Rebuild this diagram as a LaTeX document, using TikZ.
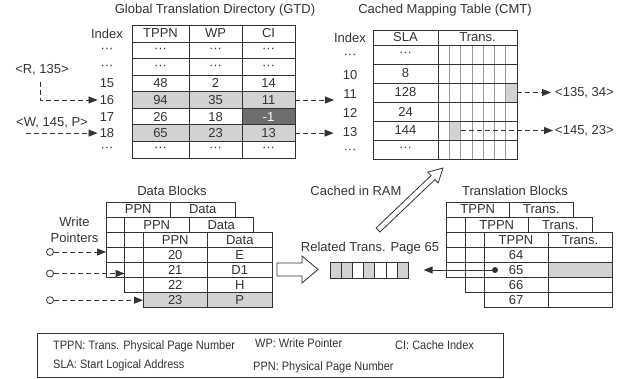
\documentclass[tikz,border=0pt]{standalone}
\usepackage{fontspec}
\setmainfont{Liberation Sans}
\newfontfamily\legfont[FakeStretch=0.9]{Liberation Sans}
\usetikzlibrary{arrows.meta,calc}
\definecolor{ln}{HTML}{333333}
\definecolor{lg}{HTML}{D2D2D2}
\definecolor{dg}{HTML}{6E6E6E}
\definecolor{subc}{HTML}{9A9A9A}
\begin{document}
\begin{tikzpicture}[x=1pt,y=-1pt,
  txt/.style={font=\fontsize{13}{15}\selectfont, inner sep=1pt, text=ln},
  sm/.style={font=\legfont\fontsize{12.2}{14}\selectfont, inner sep=0pt, anchor=west, text=ln},
  grid/.style={draw=ln, line width=0.9pt},
  dasharr/.style={draw=ln, line width=0.8pt, dash pattern=on 5pt off 3pt, -{Triangle[length=9pt,width=7pt]}},
  solarr/.style={draw=ln, line width=0.8pt, -{Triangle[length=9pt,width=7pt]}},
  hollow/.style={draw=ln, line width=0.8pt, fill=white, line join=miter},
  ptr/.style={circle, draw=ln, line width=0.8pt, minimum size=7pt, inner sep=0pt, fill=white}
]
\useasboundingbox (0,0) rectangle (624,379);

% ---------- titles ----------
\node[txt] (gtdt) at (215,10) {Global Translation Directory (GTD)};
\node[txt] (cmtt) at (445,10) {Cached Mapping Table (CMT)};

% ---------- GTD ----------
\fill[lg] (132,91.71) rectangle (295,108.29);
\fill[lg] (132,124.86) rectangle (295,141.43);
\fill[dg] (242,108.29) rectangle (295,124.86);
\draw[grid] (132,25) rectangle (295,158);
\foreach \y in {42,58.57,75.14,91.71,108.29,124.86,141.43} \draw[grid] (132,\y) -- (295,\y);
\foreach \x in {189,242} \draw[grid] (\x,25) -- (\x,158);
\node[txt] (gidx) at (107,33.5) {Index};
\node[txt] (gh1) at (160.5,33.5) {TPPN};
\node[txt] (gh2) at (215.5,33.5) {WP};
\node[txt] (gh3) at (268.5,33.5) {CI};
\foreach \n/\ix/\yy/\a/\b/\c/\tc in {a/···/50.3/···/···/···/ln, b/···/66.9/···/···/···/ln, 15/15/83.4/48/2/14/ln, 16/16/100/94/35/11/ln, 17/17/116.6/26/18/-1/white, 18/18/133.1/65/23/13/ln, c/···/149.7/···/···/···/ln}{
  \node[txt] (i\n) at (107,\yy) {\ix};
  \node[txt] (tp\n) at (160.5,\yy) {\a};
  \node[txt] (w\n) at (215.5,\yy) {\b};
  \node[txt, text=\tc, minimum width=53pt, inner sep=0pt] (ci\n) at (268.5,\yy) {\c};
}

% ---------- CMT ----------
\node[fill=lg, inner sep=0pt, minimum width=11.29pt, minimum height=19pt] (g11) at (511.36,92.5) {};
\node[fill=lg, inner sep=0pt, minimum width=11.29pt, minimum height=19pt] (g13) at (454.93,130.5) {};
\foreach \k in {1,...,6} \draw[draw=subc, line width=0.7pt] ({438+\k*11.2857},45) -- ({438+\k*11.2857},159);
\draw[grid] (373,30) rectangle (517,159);
\foreach \y in {45,64,83,102,121,140} \draw[grid] (373,\y) -- (517,\y);
\draw[grid] (438,30) -- (438,159);
\node[txt] (cidx) at (350,38) {Index};
\node[txt] (ch1) at (405.5,37.5) {SLA};
\node[txt] (ch2) at (477.5,37.5) {Trans.};
\foreach \n/\ix/\yy/\s in {a/···/54.5/···, 10/10/73.5/8, 11/11/92.5/128, 12/12/111.5/24, 13/13/130.5/144, b/···/149.5/···}{
  \node[txt] (c\n) at (350,\yy+1.5) {\ix};
  \node[txt] (s\n) at (405.5,\yy) {\s};
}

% GTD -> CMT
\draw[dasharr, shorten >=8pt] (ci16.east) -- (ci16.east -| c11.west);
\draw[dasharr, shorten >=8pt] (ci18.east) -- (ci18.east -| c13.west);

% CMT -> outputs
\node[txt, anchor=west] (o1) at (554,92.5) {<135, 34>};
\node[txt, anchor=west] (o2) at (554,130.5) {<145, 23>};
\draw[dasharr, shorten >=3pt] (g11.east) -- (o1.west);
\draw[dasharr, shorten >=1pt] (g13.east) -- (o2.west);

% left requests
\node[txt] (rl) at (42,70) {<R, 135>};
\draw[dasharr, shorten >=1pt] ([xshift=-2pt,yshift=-5pt]rl.south) |- (i16.west);
\node[txt] (wl) at (52,123) {<W, 145, P>};
\coordinate (ws) at (26,133.1);
\draw[dasharr, shorten >=1pt] (ws) -- (i18.west);

% ---------- Data Blocks ----------
\node[txt] (dbt) at (172,190.5) {Data Blocks};
% back
\draw[grid, fill=white] (106,202) rectangle (235,277.5);
\foreach \y in {217.1,232.2,247.3,262.4} \draw[grid] (106,\y) -- (235,\y);
\draw[grid] (170.5,202) -- (170.5,217.1);
\node[txt] (db1a) at (138.25,209.5) {PPN};
\node[txt] (db1b) at (202.75,209.5) {Data};
% middle
\draw[grid, fill=white] (124.5,217.1) rectangle (253.5,292.6);
\foreach \y in {232.2,247.3,262.4,277.5} \draw[grid] (124.5,\y) -- (253.5,\y);
\draw[grid] (189,217.1) -- (189,232.2);
\node[txt] (db2a) at (156.75,224.6) {PPN};
\node[txt] (db2b) at (221.25,224.6) {Data};
% front
\draw[grid, fill=white] (143,232.2) rectangle (272,307.7);
\fill[lg] (143,292.6) rectangle (272,307.7);
\draw[grid] (143,232.2) rectangle (272,307.7);
\foreach \y in {247.3,262.4,277.5,292.6} \draw[grid] (143,\y) -- (272,\y);
\draw[grid] (207.5,232.2) -- (207.5,307.7);
\node[txt] (db3a) at (175.25,239.8) {PPN};
\node[txt] (db3b) at (239.75,239.8) {Data};
\foreach \p/\d/\yy in {20/E/254.9, 21/D1/270, 22/H/285.1, 23/P/300.2}{
  \node[txt] (dp\p) at (175.25,\yy) {\p};
  \node[txt] (dd\p) at (239.75,\yy) {\d};
}
% write pointers
\node[txt] (wpt1) at (74.5,222) {Write};
\node[txt] (wpt2) at (74.5,238) {Pointers};
\node[ptr] (ptr1) at (50,252) {};
\node[ptr] (ptr2) at (50,273.5) {};
\node[ptr] (ptr3) at (50,300.2) {};
\coordinate (wt1) at (106,252);
\coordinate (wt2) at (124.5,273.5);
\coordinate (wt3) at (143,300.2);
\draw[dasharr] (ptr1) -- (wt1);
\draw[dasharr] (ptr2) -- (wt2);
\draw[dasharr] (ptr3) -- (wt3);

% hollow arrow data -> page
\draw[hollow] (277,263) -- (302,263) -- (302,256) -- (318,269.5) -- (302,283) -- (302,276) -- (277,276) -- cycle;

% related trans page strip
\node[txt] (rtp) at (370,248) {Related Trans. Page 65};
\foreach \k/\f in {0/lg,1/lg,2/white,3/lg,4/white,5/white,6/lg}
  \draw[grid, fill=\f] ({330+\k*11.2},262) rectangle ({341.2+\k*11.2},278);
\node[inner sep=0pt, minimum width=78.4pt, minimum height=16pt] (strip) at (369.2,270) {};

% cached in RAM arrow
\node[txt] (cir) at (356,190.5) {Cached in RAM};
\begin{scope}[shift={(378,230)}, rotate=43.64]
  \draw[hollow] (0,-2.8) -- (76,-2.8) -- (76,-7.5) -- (89.8,0) -- (76,7.5) -- (76,2.8) -- (0,2.8) -- cycle;
\end{scope}

% ---------- Translation Blocks ----------
\node[txt] (tbt) at (515,190.5) {Translation Blocks};
% back
\draw[grid, fill=white] (446,202) rectangle (573,277.5);
\foreach \y in {217.1,232.2,247.3,262.4} \draw[grid] (446,\y) -- (573,\y);
\draw[grid] (509.5,202) -- (509.5,217.1);
\node[txt] (tb1a) at (477.75,209.5) {TPPN};
\node[txt] (tb1b) at (541.25,209.5) {Trans.};
% middle
\draw[grid, fill=white] (465,217.1) rectangle (592,292.6);
\foreach \y in {232.2,247.3,262.4,277.5} \draw[grid] (465,\y) -- (592,\y);
\draw[grid] (528.5,217.1) -- (528.5,232.2);
\node[txt] (tb2a) at (496.75,224.6) {TPPN};
\node[txt] (tb2b) at (560.25,224.6) {Trans.};
% front
\draw[grid, fill=white] (484,232.2) rectangle (612,307.7);
\fill[lg] (548,262.4) rectangle (612,277.5);
\draw[grid] (484,232.2) rectangle (612,307.7);
\foreach \y in {247.3,262.4,277.5,292.6} \draw[grid] (484,\y) -- (612,\y);
\draw[grid] (548,232.2) -- (548,307.7);
\node[txt] (tb3a) at (516,239.8) {TPPN};
\node[txt] (tb3b) at (580,239.8) {Trans.};
\foreach \p/\yy in {64/254.9, 65/270, 66/285.1, 67/300.2}
  \node[txt] (tp\p) at (516,\yy) {\p};

% dot -> strip
\node[circle, fill=ln, minimum size=6pt, inner sep=0pt] (dot) at (495,270) {};
\draw[solarr, shorten >=15pt] (dot) -- (strip.east);

% ---------- legend ----------
\node[draw=ln, line width=0.8pt, minimum width=466pt, minimum height=44pt, inner sep=0pt] (leg) at (270,355) {};
\node[sm] (l1) at (53,346.5) {TPPN: Trans. Physical Page Number};
\node[sm] (l2) at (255,343.5) {WP: Write Pointer};
\node[sm] (l3) at (395,345) {CI: Cache Index};
\node[sm] (l4) at (53,365.5) {SLA: Start Logical Address};
\node[sm] (l5) at (253,367) {PPN: Physical Page Number};
\end{tikzpicture}
\end{document}
